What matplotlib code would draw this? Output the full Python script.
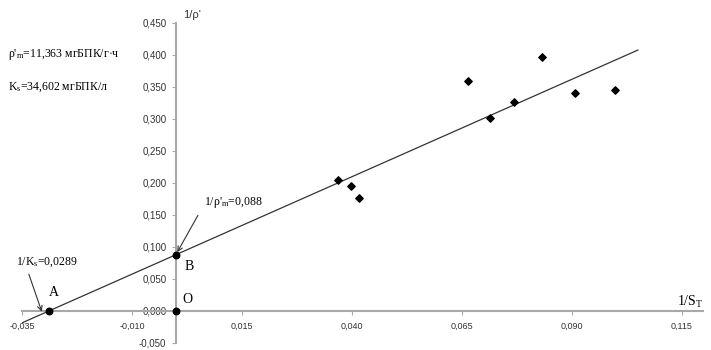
"""Lineweaver-Burk plot: 1/rho' vs 1/S_T with fitted line and intercepts."""
import numpy as np
import matplotlib
matplotlib.use("Agg")
import matplotlib.pyplot as plt
from matplotlib.ticker import FixedLocator, FuncFormatter

plt.rcParams["font.family"] = ["Liberation Serif", "DejaVu Serif"]
plt.rcParams["mathtext.fontset"] = "custom"
plt.rcParams["mathtext.rm"] = "Liberation Serif"
plt.rcParams["mathtext.default"] = "regular"

# measured points (1/S_T, 1/rho')
inv_s = [0.0369, 0.0398, 0.0415, 0.0664, 0.0713, 0.0768, 0.0832, 0.0908, 0.0998]
inv_rho = [0.204, 0.195, 0.177, 0.359, 0.302, 0.327, 0.397, 0.341, 0.346]

# fitted line parameters
intercept = 0.088      # 1/rho'_m
x_cross = -0.0289      # -1/K_s
line_x = [-0.035, 0.105]

# special points A, B, O
special_x = [x_cross, 0.0, 0.0]
special_y = [0.0, intercept, 0.0]
special_names = ["A", "B", "O"]

x_ticks = [-0.035, -0.010, 0.015, 0.040, 0.065, 0.090, 0.115]
y_ticks = [-0.05, 0.0, 0.05, 0.10, 0.15, 0.20, 0.25, 0.30, 0.35, 0.40, 0.45]

fig = plt.figure(figsize=(7.11, 3.5), dpi=100)
ax = fig.add_axes([22 / 711, 7 / 350, 681 / 711, 320 / 350])
ax.set_xlim(-0.035, 0.1198)
ax.set_ylim(-0.05, 0.45)

slope = intercept / -x_cross
lx = np.array(line_x)
ax.plot(lx, intercept + slope * lx, color="#333333", lw=0.9, zorder=2)
ax.scatter(inv_s, inv_rho, marker="D", s=14, color="black", zorder=3)
ax.scatter(special_x, special_y, marker="o", s=22, color="black", zorder=4)

# axes through origin, Excel style
for side in ("top", "right"):
    ax.spines[side].set_visible(False)
ax.spines["left"].set_position(("data", 0))
ax.spines["bottom"].set_position(("data", 0))
for side in ("left", "bottom"):
    ax.spines[side].set_color("#a8a8a8")
    ax.spines[side].set_linewidth(1.5)
ax.xaxis.set_major_locator(FixedLocator(x_ticks))
ax.yaxis.set_major_locator(FixedLocator(y_ticks))
ax.xaxis.set_major_formatter(FuncFormatter(lambda v, p: f"{v:.3f}".replace(".", ",")))
ax.yaxis.set_major_formatter(FuncFormatter(lambda v, p: f"{v:.3f}".replace(".", ",")))
ax.tick_params(axis="both", colors="#a8a8a8", length=3, width=0.8)
ax.tick_params(axis="x", labelsize=6.5, labelcolor="#333333", pad=5)
ax.tick_params(axis="y", labelsize=7, labelcolor="#333333", pad=4)
for lab in ax.get_xticklabels() + ax.get_yticklabels():
    lab.set_family(["Liberation Sans", "DejaVu Sans"])

# point names
offsets = [(0, 13), (6.5, -8.5), (4.5, 8)]
for x, y, name, off in zip(special_x, special_y, special_names, offsets):
    ax.annotate(name, (x, y), xytext=off, textcoords="offset points",
                fontsize=10, ha="left", va="center")

# intercept labels with arrows
ax.annotate("1/ρ'$_{m}$=0,088", xy=(0.0003, 0.092), xytext=(0.0064, 0.169),
            fontsize=8.5, ha="left", va="center",
            arrowprops=dict(arrowstyle="->", color="#333333", lw=0.8,
                            shrinkA=5, shrinkB=0, relpos=(0.0, 0.4)))
ax.annotate("1/K$_{s}$=0,0289", xy=(-0.0305, -0.001), xytext=(-0.0364, 0.0766),
            fontsize=8.5, ha="left", va="center", annotation_clip=False,
            arrowprops=dict(arrowstyle="->", color="#333333", lw=0.8,
                            shrinkA=2, shrinkB=0, relpos=(0.18, 0.0)))

# constants
fig.text(8 / 711, 1 - 55 / 350, "ρ'$_{m}$=11,363 мгБПК/г·ч", fontsize=8.5, va="center")
fig.text(8 / 711, 1 - 87 / 350, "K$_{s}$=34,602 мгБПК/л", fontsize=8.5, va="center")

# axis names
fig.text(183 / 711, 1 - 15 / 350, "1/ρ'", fontsize=8, va="center", ha="left",
         family=["Liberation Sans", "DejaVu Sans"], color="#333333")
fig.text(703 / 711, 1 - 302 / 350, "1/S$_{T}$", fontsize=10, va="center", ha="right")

fig.savefig("out.png", dpi=100)
